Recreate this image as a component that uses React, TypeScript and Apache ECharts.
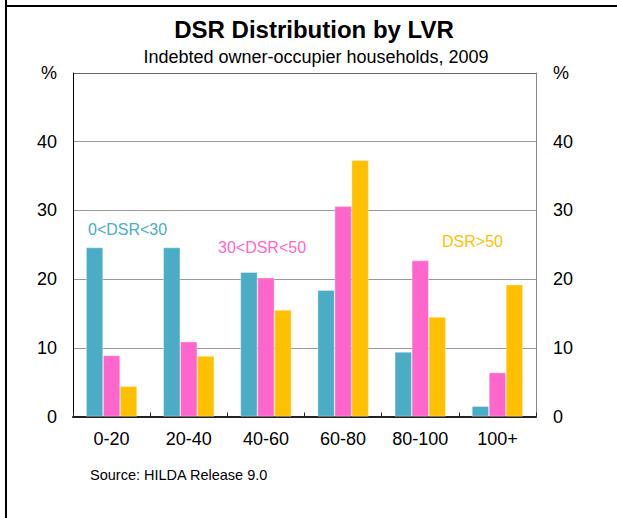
import React, { useEffect, useRef } from "react";
import * as echarts from "echarts";

const categories = ["0-20", "20-40", "40-60", "60-80", "80-100", "100+"];
const lowDsr = [24.6, 24.6, 21.0, 18.4, 9.4, 1.5];
const midDsr = [8.9, 10.9, 20.2, 30.6, 22.7, 6.4];
const highDsr = [4.4, 8.8, 15.5, 37.3, 14.5, 19.2];
const seriesNames = ["0<DSR<30", "30<DSR<50", "DSR>50"];
const colors = ["#4BACC6", "#FF66CC", "#FFC000"];

const FONT = "'Liberation Sans', Arial, sans-serif";

export default function App() {
  const ref = useRef<HTMLDivElement>(null);
  useEffect(() => {
    if (!ref.current) return;
    const chart = echarts.init(ref.current, undefined, { renderer: "svg" });
    const yFmt = (v: number) => (v === 50 ? "%" : String(v));
    const barSeries = [lowDsr, midDsr, highDsr].map((d, i) => ({
      name: seriesNames[i],
      type: "bar" as const,
      data: d,
      barWidth: 17,
      barGap: "0%",
      itemStyle: { color: colors[i], borderColor: "rgba(255,255,255,0.6)", borderWidth: 0.6 },
      yAxisIndex: 0,
    }));
    chart.setOption({
      animation: false,
      backgroundColor: "#fff",
      textStyle: { fontFamily: FONT },
      title: [
        {
          text: "DSR Distribution by LVR",
          left: 309,
          top: 12,
          textAlign: "center",
          textStyle: { fontSize: 24, fontWeight: "bold", color: "#000", fontFamily: FONT },
        },
        {
          text: "Indebted owner-occupier households, 2009",
          left: 311,
          top: 43,
          textAlign: "center",
          textStyle: { fontSize: 18, fontWeight: "normal", color: "#000", fontFamily: FONT },
        },
      ],
      grid: { left: 73, right: 81, top: 73, bottom: 101.5, containLabel: false },
      xAxis: {
        type: "category",
        data: categories,
        axisLine: { lineStyle: { color: "#222", width: 2 } },
        axisTick: { show: true, inside: true, length: 4, lineStyle: { color: "#222" } },
        axisLabel: { fontSize: 18, color: "#000", margin: 13, fontFamily: FONT },
        splitLine: { show: false },
      },
      yAxis: [
        {
          type: "value",
          min: 0,
          max: 50,
          interval: 10,
          position: "left",
          axisLine: { show: true, lineStyle: { color: "#000", width: 1 } },
          axisTick: { show: false },
          axisLabel: { fontSize: 18, color: "#000", margin: 16, formatter: yFmt, fontFamily: FONT },
          splitLine: {
            show: true,
            lineStyle: { color: ["#999", "#999", "#999", "#999", "#999", "#666"], width: 1 },
          },
        },
        {
          type: "value",
          min: 0,
          max: 50,
          interval: 10,
          position: "right",
          axisLine: { show: true, lineStyle: { color: "#888", width: 1 } },
          axisTick: { show: false },
          axisLabel: { fontSize: 18, color: "#000", margin: 17, formatter: yFmt, fontFamily: FONT },
          splitLine: { show: false },
        },
      ],
      series: barSeries,
      graphic: [
        { type: "line", shape: { x1: 6, y1: 0, x2: 6, y2: 518 }, style: { stroke: "#000", lineWidth: 2 } },
        { type: "line", shape: { x1: 6, y1: 6, x2: 617, y2: 6 }, style: { stroke: "#000", lineWidth: 2 } },
        {
          type: "text",
          x: 88,
          y: 229,
          style: { text: seriesNames[0], fill: colors[0], fontSize: 16, fontFamily: FONT, textVerticalAlign: "middle" },
        },
        {
          type: "text",
          x: 218,
          y: 247,
          style: { text: seriesNames[1], fill: colors[1], fontSize: 16, fontFamily: FONT, textVerticalAlign: "middle" },
        },
        {
          type: "text",
          x: 442,
          y: 241,
          style: { text: seriesNames[2], fill: colors[2], fontSize: 16, fontFamily: FONT, textVerticalAlign: "middle" },
        },
        {
          type: "text",
          x: 90,
          y: 475,
          style: { text: "Source: HILDA Release 9.0", fill: "#000", fontSize: 14.5, fontFamily: FONT, textVerticalAlign: "middle" },
        },
      ],
    });
    return () => chart.dispose();
  }, []);
  return <div ref={ref} style={{ width: 617, height: 518, position: "absolute", left: 0, top: 0 }} />;
}
